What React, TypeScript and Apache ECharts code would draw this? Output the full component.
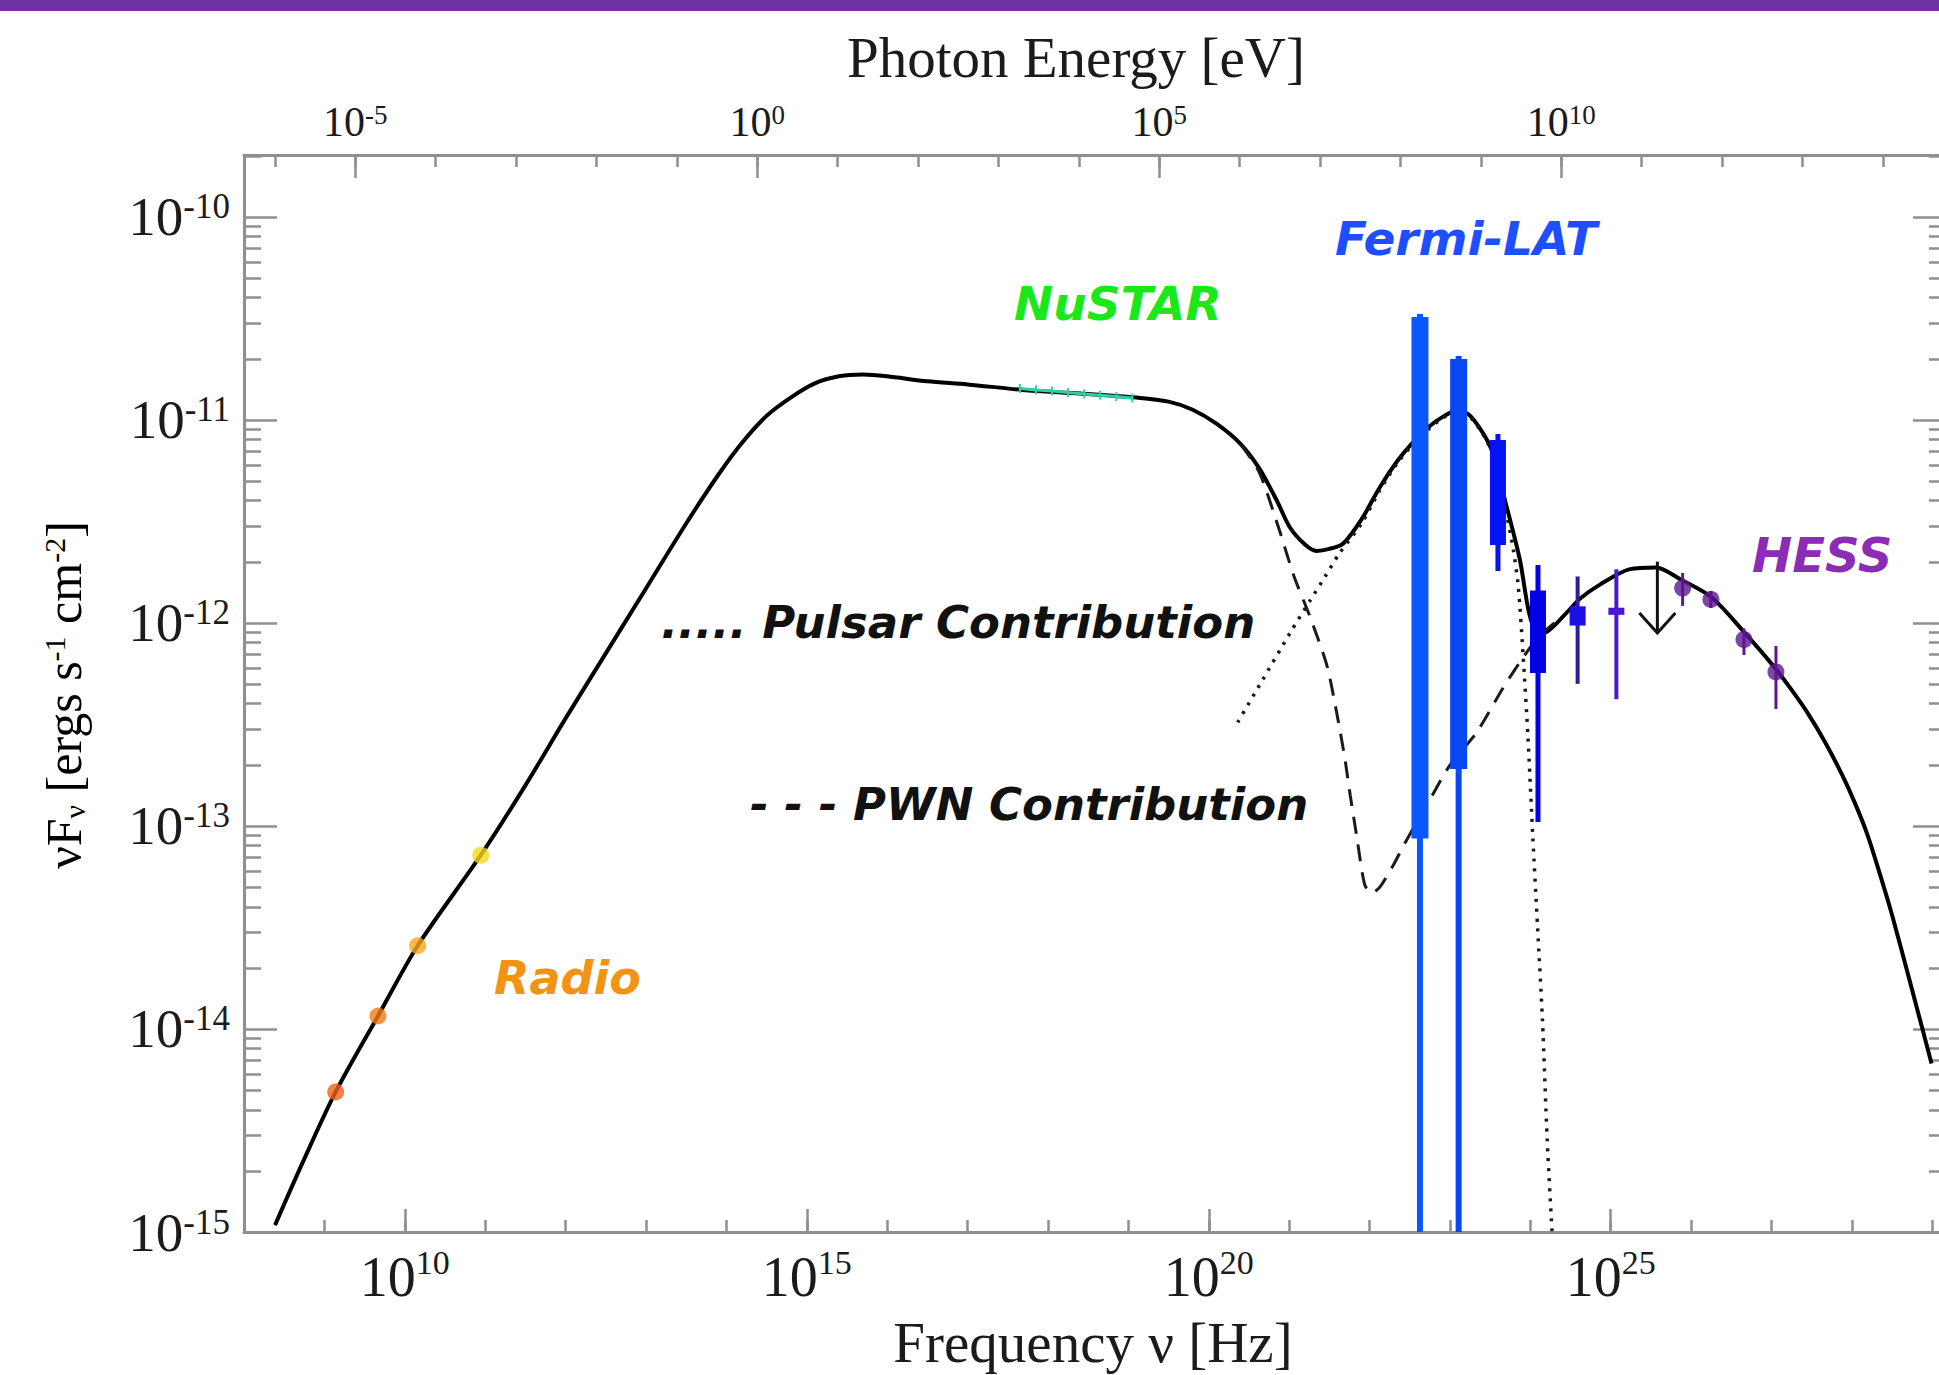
import React, { useEffect, useRef } from "react";
import * as echarts from "echarts";

// ---- axis extents (all in log10 units) ----
const X_MIN = 8;
const X_MAX = 29.17;
const Y_MIN = -15;
const Y_MAX = -9.695;
const EV_SHIFT = 14.3835; // log10(Hz per eV)

// ---- tick values ----
const X_MAJOR = [10, 15, 20, 25];
const X_MINOR = [9, 10, 11, 12, 13, 14, 15, 16, 17, 18, 19, 20, 21, 22, 23, 24, 25, 26, 27, 28, 29];
const EV_MAJOR = [-5, 0, 5, 10];
const EV_MINOR = [-6, -5, -4, -3, -2, -1, 0, 1, 2, 3, 4, 5, 6, 7, 8, 9, 10, 11, 12, 13, 14];
const Y_MAJOR = [-15, -14, -13, -12, -11, -10];
const Y_MINOR_MANTISSA = [2, 3, 4, 5, 6, 7, 8, 9];

// ---- total model (solid) : log10 nu [Hz], log10 nuFnu ----
const TOTAL_NU = [8.386, 8.75, 9.14, 9.667, 10.16, 10.945, 11.5, 12.0, 12.5, 13.0, 13.5, 13.9, 14.2, 14.5, 14.8, 15.1, 15.4, 15.7, 16.0, 16.5, 17.0, 17.68, 18.4, 19.1, 19.5, 19.8, 20.1, 20.4, 20.63, 20.85, 21.01, 21.2, 21.34, 21.5, 21.67, 21.9, 22.13, 22.35, 22.54, 22.75, 22.91, 23.05, 23.2, 23.37, 23.52, 23.7, 23.87, 23.99, 24.1, 24.2, 24.45, 24.62, 24.87, 25.24, 25.56, 25.87, 26.25, 26.67, 27.04, 27.25, 27.46, 27.67, 27.88, 28.04, 28.19, 28.35, 28.5, 28.73, 28.99];
const TOTAL_F = [-14.966, -14.64, -14.31, -13.936, -13.59, -13.144, -12.8, -12.47, -12.15, -11.83, -11.51, -11.27, -11.11, -10.98, -10.89, -10.82, -10.785, -10.776, -10.785, -10.81, -10.825, -10.852, -10.87, -10.89, -10.91, -10.95, -11.02, -11.12, -11.24, -11.4, -11.53, -11.615, -11.645, -11.635, -11.61, -11.49, -11.33, -11.2, -11.11, -11.03, -10.985, -10.96, -10.965, -11.04, -11.15, -11.42, -11.69, -11.96, -12.05, -12.045, -11.95, -11.88, -11.81, -11.735, -11.727, -11.786, -11.872, -12.05, -12.22, -12.33, -12.45, -12.59, -12.75, -12.89, -13.04, -13.24, -13.44, -13.78, -14.17];

// ---- pulsar contribution (dotted) ----
const PSR_NU = [20.36, 20.67, 21.01, 21.26, 21.45, 21.62, 21.9, 22.13, 22.35, 22.54, 22.75, 22.91, 23.05, 23.2, 23.37, 23.52, 23.68, 23.78, 23.85, 23.91, 23.97, 24.03, 24.09, 24.15, 24.21, 24.27];
const PSR_F = [-12.49, -12.28, -12.05, -11.89, -11.77, -11.66, -11.51, -11.345, -11.21, -11.12, -11.04, -10.99, -10.965, -10.97, -11.045, -11.16, -11.42, -11.62, -11.82, -12.16, -12.56, -13.05, -13.5, -13.95, -14.55, -15.0];

// ---- PWN contribution (dashed) ----
const PWN_NU = [20.4, 20.63, 20.86, 21.06, 21.26, 21.47, 21.59, 21.69, 21.76, 21.84, 21.94, 22.03, 22.13, 22.3, 22.46, 22.75, 23.0, 23.33, 23.66, 23.91, 24.1, 24.3];
const PWN_F = [-11.12, -11.26, -11.52, -11.77, -11.97, -12.21, -12.44, -12.66, -12.85, -13.05, -13.29, -13.33, -13.3, -13.19, -13.07, -12.87, -12.7, -12.54, -12.32, -12.17, -12.07, -12.0];

// ---- radio points ----
const RADIO_NU = [9.14, 9.667, 10.16, 10.945];
const RADIO_F = [-14.31, -13.936, -13.59, -13.144];
const RADIO_COLORS = ["#F0601C", "#F57A14", "#F7A61E", "#F8D71A"];

// ---- NuSTAR ----
const NUSTAR_NU = [17.65, 17.85, 18.05, 18.25, 18.45, 18.65, 18.85, 19.05];
const NUSTAR_F = [-10.845, -10.852, -10.858, -10.865, -10.872, -10.878, -10.885, -10.892];

// ---- Fermi-LAT ----
const FERMI_NU = [22.627, 23.108, 23.597, 24.095, 24.588, 25.07];
const FERMI_STAT_LO = [-13.062, -12.72, -11.616, -12.246, -12.013, -11.96];
const FERMI_STAT_HI = [-10.493, -10.7, -11.099, -11.84, -11.918, -11.925];
const FERMI_SYS_LO = [-15, -15, -11.744, -12.98, -12.3, -12.376];
const FERMI_SYS_HI = [-10.478, -10.685, -11.069, -11.714, -11.771, -11.736];

// ---- HESS ----
const HESS_NU = [25.894, 26.246, 26.657, 27.055];
const HESS_F = [-11.828, -11.884, -12.082, -12.241];
const HESS_LO = [-11.916, -11.926, -12.158, -12.424];
const HESS_HI = [-11.754, -11.842, -12.027, -12.113];

// ---- upper limit ----
const UL_NU = [25.58];
const UL_TOP = [-11.698];
const UL_TIP = [-12.05];

// ---- styles ----
const FERMI_STAT_COLORS = ["#0A56FF", "#0848F2", "#0512F5", "#0000E6", "#1C10E8", "#4A18D0"];
const FERMI_SYS_COLORS = ["#0A56FF", "#0848F2", "#0512F5", "#0000E6", "#2A1E9C", "#4A18D0"];
const FERMI_STAT_W = [17, 17, 16, 16, 16, 16];
const FERMI_SYS_W = [6, 6, 5, 5, 4, 4];

const SERIF = '"Liberation Serif", "Times New Roman", serif';
const SANS = '"DejaVu Sans", Verdana, sans-serif';
const TXT = "#1b1b1b";
const AX_COLOR = "#8f8f8f";

function yMinorTicks(): number[] {
  const out: number[] = [];
  for (let n = -15; n <= -10; n++) {
    for (const k of Y_MINOR_MANTISSA) {
      const v = n + Math.log10(k);
      if (v <= Y_MAX + 0.001) out.push(v);
    }
  }
  return out;
}

function zip(a: number[], b: number[]) {
  return a.map((x, i) => [x, b[i]]);
}

function buildOption(): any {
  const axisLine = { show: true, onZero: false, lineStyle: { color: AX_COLOR, width: 3 } };
  const noLine = { show: false, onZero: false };
  const tickStyle = { color: AX_COLOR, width: 2.5 };
  const expFmt = (v: number) => `{b|10}{s|${Math.round(v)}}`;

  const bottomRich = {
    b: { fontFamily: SERIF, fontSize: 56, lineHeight: 56, padding: [8, 0, 0, 0], color: TXT },
    s: { fontFamily: SERIF, fontSize: 34, lineHeight: 34, verticalAlign: "top", color: TXT },
  };
  const topRich = {
    b: { fontFamily: SERIF, fontSize: 42, lineHeight: 42, color: TXT },
    s: { fontFamily: SERIF, fontSize: 27, lineHeight: 27, verticalAlign: "top", color: TXT },
  };
  const leftRich = {
    b: { fontFamily: SERIF, fontSize: 55, lineHeight: 55, padding: [6, 0, 6, 0], color: TXT },
    s: { fontFamily: SERIF, fontSize: 35, lineHeight: 35, verticalAlign: "top", color: TXT },
  };

  const yMinor = yMinorTicks();

  const xAxis = [
    {
      type: "value", position: "bottom", min: X_MIN, max: X_MAX,
      axisLine,
      axisTick: { show: true, inside: true, length: 23, customValues: X_MAJOR, lineStyle: tickStyle },
      axisLabel: { show: true, customValues: X_MAJOR, margin: 13, formatter: expFmt, rich: bottomRich },
      splitLine: { show: false },
    },
    {
      type: "value", position: "bottom", min: X_MIN, max: X_MAX,
      axisLine: noLine,
      axisTick: { show: true, inside: true, length: 12, customValues: X_MINOR, lineStyle: tickStyle },
      axisLabel: { show: false },
      splitLine: { show: false },
    },
    {
      type: "value", position: "top", min: X_MIN - EV_SHIFT, max: X_MAX - EV_SHIFT,
      axisLine,
      axisTick: { show: true, inside: true, length: 23, customValues: EV_MAJOR, lineStyle: tickStyle },
      axisLabel: { show: true, customValues: EV_MAJOR, margin: 12, formatter: expFmt, rich: topRich },
      splitLine: { show: false },
    },
    {
      type: "value", position: "top", min: X_MIN - EV_SHIFT, max: X_MAX - EV_SHIFT,
      axisLine: noLine,
      axisTick: { show: true, inside: true, length: 12, customValues: EV_MINOR, lineStyle: tickStyle },
      axisLabel: { show: false },
      splitLine: { show: false },
    },
  ];

  const yAxis = [
    {
      type: "value", position: "left", min: Y_MIN, max: Y_MAX,
      axisLine,
      axisTick: { show: true, inside: true, length: 33, customValues: Y_MAJOR, lineStyle: tickStyle },
      axisLabel: { show: true, customValues: Y_MAJOR, margin: 14, formatter: expFmt, rich: leftRich },
      splitLine: { show: false },
    },
    {
      type: "value", position: "left", min: Y_MIN, max: Y_MAX,
      axisLine: noLine,
      axisTick: { show: true, inside: true, length: 17, customValues: yMinor, lineStyle: tickStyle },
      axisLabel: { show: false },
      splitLine: { show: false },
    },
    {
      type: "value", position: "right", min: Y_MIN, max: Y_MAX,
      axisLine,
      axisTick: { show: true, inside: true, length: 33, customValues: Y_MAJOR, lineStyle: tickStyle },
      axisLabel: { show: false },
      splitLine: { show: false },
    },
    {
      type: "value", position: "right", min: Y_MIN, max: Y_MAX,
      axisLine: noLine,
      axisTick: { show: true, inside: true, length: 17, customValues: yMinor, lineStyle: tickStyle },
      axisLabel: { show: false },
      splitLine: { show: false },
    },
  ];

  const fermiData = FERMI_NU.map((x, i) => [x, FERMI_STAT_LO[i], FERMI_STAT_HI[i], FERMI_SYS_LO[i], FERMI_SYS_HI[i]]);
  const hessErr = HESS_NU.map((x, i) => [x, HESS_LO[i], HESS_HI[i]]);
  const ulData = UL_NU.map((x, i) => [x, UL_TOP[i], UL_TIP[i]]);

  const labelFont = (size: number) => `italic bold ${size}px ${SANS}`;
  const annot = (text: string, x: number, y: number, fill: string, size: number) => ({
    type: "text", x, y, silent: true, z: 20,
    style: { text, fill, font: labelFont(size), align: "left", textAlign: "left", verticalAlign: "middle", textVerticalAlign: "middle" },
  });

  return {
    animation: false,
    backgroundColor: "#ffffff",
    grid: { left: 244, top: 155, width: 1702, height: 1077, containLabel: false, outerBoundsMode: "none" },
    xAxis,
    yAxis,
    series: [
      {
        name: "Total", type: "line", data: zip(TOTAL_NU, TOTAL_F), showSymbol: false, smooth: 0.3,
        lineStyle: { color: "#000000", width: 4 }, z: 2, silent: true,
      },
      {
        name: "Pulsar", type: "line", data: zip(PSR_NU, PSR_F), showSymbol: false, smooth: 0.25,
        lineStyle: { color: "#1a1a1a", width: 3.5, type: [3, 7] }, z: 2, silent: true,
      },
      {
        name: "PWN", type: "line", data: zip(PWN_NU, PWN_F), showSymbol: false, smooth: 0.25,
        lineStyle: { color: "#1a1a1a", width: 3, type: [17, 11] }, z: 2, silent: true,
      },
      {
        name: "NuSTAR", type: "line", data: zip(NUSTAR_NU, NUSTAR_F), showSymbol: true, symbol: "rect", symbolSize: [2, 9],
        itemStyle: { color: "#2ECFA3" }, lineStyle: { color: "#2ECFA3", width: 3 }, z: 3, silent: true,
      },
      {
        name: "Radio", type: "scatter", symbolSize: 17, z: 5, silent: true,
        data: RADIO_NU.map((x, i) => ({ value: [x, RADIO_F[i]], itemStyle: { color: RADIO_COLORS[i] } })),
      },
      {
        name: "Fermi-LAT", type: "custom", z: 4, silent: true,
        encode: { x: 0, y: [1, 2, 3, 4] },
        data: fermiData,
        renderItem: (params: any, api: any) => {
          const i = params.dataIndex;
          const x = api.value(0);
          const sLo = api.coord([x, api.value(3)]);
          const sHi = api.coord([x, api.value(4)]);
          const tLo = api.coord([x, api.value(1)]);
          const tHi = api.coord([x, api.value(2)]);
          const tw = FERMI_SYS_W[i];
          const w = FERMI_STAT_W[i];
          return {
            type: "group",
            children: [
              { type: "rect", shape: { x: sLo[0] - tw / 2, y: sHi[1], width: tw, height: sLo[1] - sHi[1] }, style: { fill: FERMI_SYS_COLORS[i] } },
              { type: "rect", shape: { x: tLo[0] - w / 2, y: tHi[1], width: w, height: Math.max(tLo[1] - tHi[1], 6) }, style: { fill: FERMI_STAT_COLORS[i] } },
            ],
          };
        },
      },
      {
        name: "HESS err", type: "custom", z: 4, silent: true,
        encode: { x: 0, y: [1, 2] },
        data: hessErr,
        renderItem: (params: any, api: any) => {
          const x = api.value(0);
          const lo = api.coord([x, api.value(1)]);
          const hi = api.coord([x, api.value(2)]);
          return { type: "line", shape: { x1: lo[0], y1: lo[1], x2: hi[0], y2: hi[1] }, style: { stroke: "#5B1690", lineWidth: 3 } };
        },
      },
      {
        name: "HESS", type: "scatter", symbolSize: 17, z: 5, silent: true,
        itemStyle: { color: "#5B1690" },
        data: zip(HESS_NU, HESS_F),
      },
      {
        name: "Upper limit", type: "custom", z: 4, silent: true,
        encode: { x: 0, y: [1, 2] },
        data: ulData,
        renderItem: (params: any, api: any) => {
          const x = api.value(0);
          const top = api.coord([x, api.value(1)]);
          const tip = api.coord([x, api.value(2)]);
          return {
            type: "group",
            children: [
              { type: "line", shape: { x1: top[0], y1: top[1], x2: tip[0], y2: tip[1] }, style: { stroke: "#111111", lineWidth: 3 } },
              { type: "polyline", shape: { points: [[tip[0] - 18, tip[1] - 20], [tip[0], tip[1]], [tip[0] + 18, tip[1] - 20]] }, style: { stroke: "#111111", lineWidth: 3, fill: "none" } },
            ],
          };
        },
      },
    ],
    graphic: [
      { type: "rect", silent: true, z: 30, shape: { x: 0, y: 0, width: 1939, height: 11 }, style: { fill: "#7131A1" } },
      annot("Radio", 494, 978, "#F39313", 46),
      annot("NuSTAR", 1014, 303, "#1BE81B", 47),
      annot("Fermi-LAT", 1335, 238, "#1D4EFF", 47),
      annot("HESS", 1752, 555, "#8A2CB4", 48),
      annot("..... Pulsar Contribution", 661, 622, "#111111", 45),
      annot("- - - PWN Contribution", 750, 804, "#111111", 45),
      {
        type: "text", x: 1076, y: 57, silent: true, z: 20,
        style: { text: "Photon Energy [eV]", fill: TXT, font: `57px ${SERIF}`, align: "center", textAlign: "center", verticalAlign: "middle", textVerticalAlign: "middle" },
      },
      {
        type: "text", x: 1093, y: 1342, silent: true, z: 20,
        style: { text: "Frequency \u03bd [Hz]", fill: TXT, font: `57px ${SERIF}`, align: "center", textAlign: "center", verticalAlign: "middle", textVerticalAlign: "middle" },
      },
      {
        type: "text", x: 64, y: 695, rotation: Math.PI / 2, silent: true, z: 20,
        style: {
          text: "{a|\u03bdF}{sub|\u03bd}{a| [ergs s}{sup|-1}{a| cm}{sup|-2}{a|]}",
          align: "center", textAlign: "center", verticalAlign: "middle", textVerticalAlign: "middle",
          rich: {
            a: { fontFamily: SERIF, fontSize: 50, lineHeight: 50, padding: [8, 0, 8, 0], color: TXT },
            sub: { fontFamily: SERIF, fontSize: 30, lineHeight: 30, verticalAlign: "bottom", color: TXT },
            sup: { fontFamily: SERIF, fontSize: 30, lineHeight: 30, verticalAlign: "top", color: TXT },
          },
        },
      },
    ],
  };
}

export default function App() {
  const ref = useRef<HTMLDivElement>(null);
  useEffect(() => {
    if (!ref.current) return;
    const chart = echarts.init(ref.current, undefined, { renderer: "svg" });
    chart.setOption(buildOption());
    return () => {
      chart.dispose();
    };
  }, []);
  return (
    <div
      ref={ref}
      style={{ position: "absolute", left: 0, top: 0, width: 1939, height: 1375, background: "#ffffff" }}
    />
  );
}
